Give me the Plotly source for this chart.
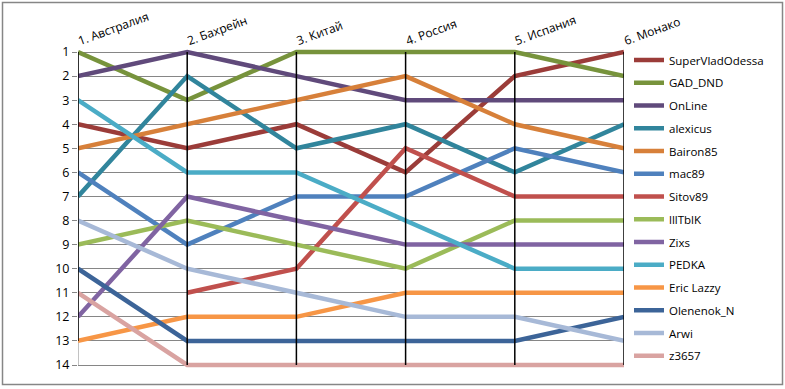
import plotly.graph_objects as go

categories = ["1. Австралия", "2. Бахрейн", "3. Китай", "4. Россия", "5. Испания", "6. Монако"]

names = ["SuperVladOdessa", "GAD_DND", "OnLine", "alexicus", "Bairon85", "mac89", "Sitov89",
         "lllTblK", "Zixs", "PEDKA", "Eric Lazzy", "Olenenok_N", "Arwi", "z3657"]

SuperVladOdessa = [4, 5, 4, 6, 2, 1]
GAD_DND = [1, 3, 1, 1, 1, 2]
OnLine = [2, 1, 2, 3, 3, 3]
alexicus = [7, 2, 5, 4, 6, 4]
Bairon85 = [5, 4, 3, 2, 4, 5]
mac89 = [6, 9, 7, 7, 5, 6]
Sitov89 = [None, 11, 10, 5, 7, 7]
lllTblK = [9, 8, 9, 10, 8, 8]
Zixs = [12, 7, 8, 9, 9, 9]
PEDKA = [3, 6, 6, 8, 10, 10]
Eric_Lazzy = [13, 12, 12, 11, 11, 11]
Olenenok_N = [10, 13, 13, 13, 13, 12]
Arwi = [8, 10, 11, 12, 12, 13]
z3657 = [11, 14, 14, 14, 14, 14]

series = [SuperVladOdessa, GAD_DND, OnLine, alexicus, Bairon85, mac89, Sitov89,
          lllTblK, Zixs, PEDKA, Eric_Lazzy, Olenenok_N, Arwi, z3657]

colors = ["#9B3C39", "#77933C", "#604A7B", "#31859C", "#D7803A", "#4F81BD", "#C0504D",
          "#9BBB59", "#8064A2", "#4BACC6", "#F79646", "#3C6498", "#A7B9D7", "#D9A3A1"]

ranks = list(range(1, 15))

W, H = 785, 389
L, R = 78, 624           # plot x pixel edges
y1px, y14px = 52, 365    # pixel positions of rank 1 and rank 14
T, B = 49, 368
ppy = (y14px - y1px) / 13.0
y_top = 1 - (y1px - T) / ppy
y_bot = 14 + (B - y14px) / ppy

fig = go.Figure()

font_family = "Open Sans, DejaVu Sans, sans-serif"

for i, (name, vals, col) in enumerate(zip(names, series, colors)):
    fig.add_trace(go.Scatter(
        x=categories, y=vals, name=name, mode="lines",
        line=dict(color=col, width=4.5),
        connectgaps=False, cliponaxis=False, legendgroup="g%d" % i,
    ))

# high-low lines from the data
hx, hy = [], []
for i, c in enumerate(categories):
    vals = [s[i] for s in series if s[i] is not None]
    hx += [c, c, None]
    hy += [min(vals), max(vals), None]
fig.add_trace(go.Scatter(x=hx, y=hy, mode="lines", line=dict(color="black", width=1.5),
                         showlegend=False, hoverinfo="skip", cliponaxis=False,
                         legendgroup="hl"))

pw = R - L
ph = B - T

def px_x(p):
    return (p - L) / pw

def px_y(p):
    return 1 - (p - T) / ph

shapes = [
    # left axis line
    dict(type="line", xref="x", yref="y", x0=categories[0], x1=categories[0], y0=1, y1=14,
         line=dict(color="#868686", width=1), layer="below"),
    # outer chart border
    dict(type="rect", xref="paper", yref="paper",
         x0=px_x(2.5), x1=px_x(782.5), y0=px_y(384.5), y1=px_y(2.5),
         line=dict(color="#868686", width=1.5)),
]

fig.update_layout(
    width=W, height=H,
    margin=dict(l=L, r=W - R, t=T, b=H - B, autoexpand=False),
    paper_bgcolor="white", plot_bgcolor="white",
    font=dict(family=font_family, size=12, color="black"),
    showlegend=True,
    legend=dict(
        x=px_x(629), y=px_y(45.5), xanchor="left", yanchor="top",
        font=dict(family=font_family, size=11.5, color="black"),
        tracegroupgap=3.75, traceorder="grouped",
        bgcolor="rgba(0,0,0,0)", itemwidth=30, maxheight=400,
    ),
    xaxis=dict(
        side="top", type="category", range=[0, 5],
        showgrid=False, zeroline=False, showline=False, ticks="",
        tickangle=-20, tickfont=dict(size=12),
        fixedrange=True,
    ),
    yaxis=dict(
        range=[y_bot, y_top], tickmode="array", tickvals=ranks,
        ticktext=[str(r) for r in ranks],
        showgrid=True, gridcolor="#868686", gridwidth=1,
        zeroline=False, showline=False,
        ticks="outside", ticklen=5, tickcolor="#868686",
        tickfont=dict(size=12.5),
    ),
    shapes=shapes,
)

fig.write_html("out.html", config={"displayModeBar": False},
               post_script="document.body.style.margin='0';document.body.style.overflow='hidden';")
